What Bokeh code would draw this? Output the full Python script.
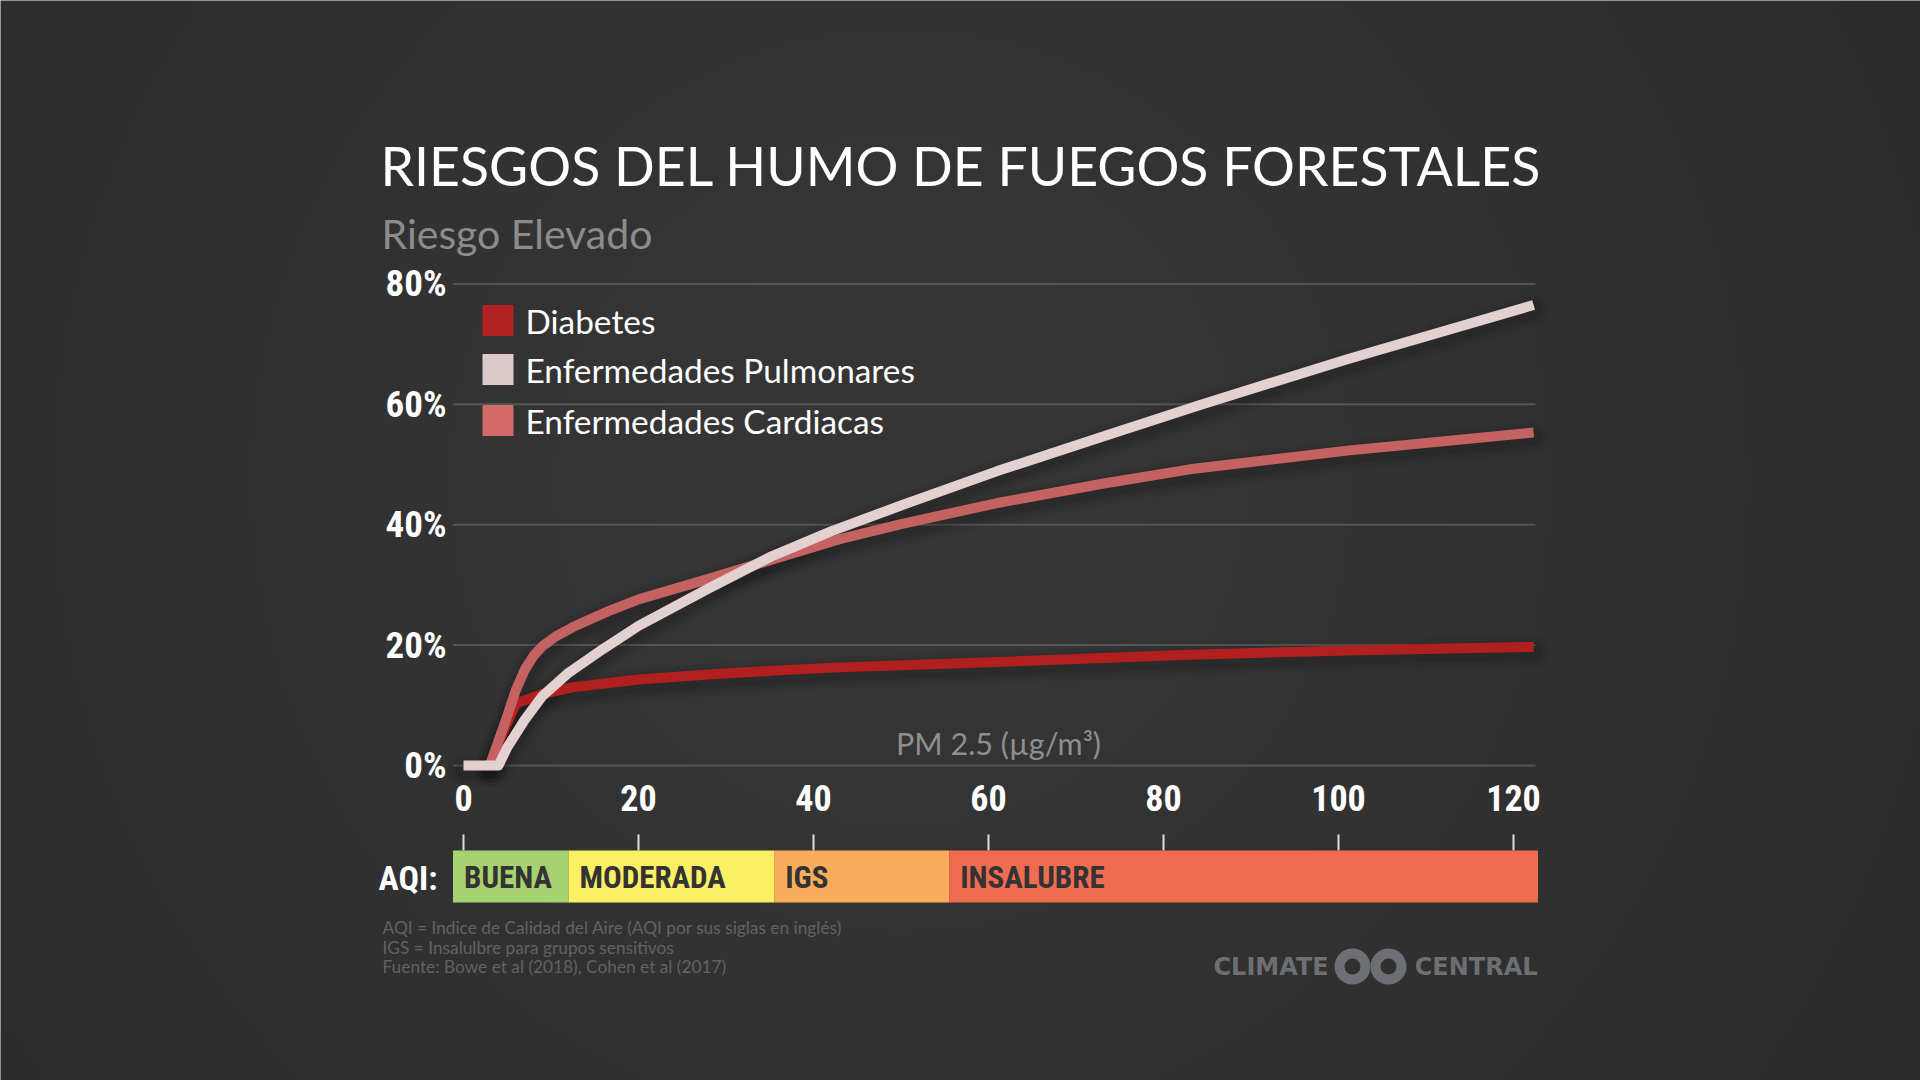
from bokeh.plotting import figure
from bokeh.models import Range1d
from bokeh.core.properties import value
from bokeh.embed import file_html
from bokeh.resources import INLINE

# ---------------- data ----------------
pm_ticks = [0, 20, 40, 60, 80, 100, 120]
risk_ticks = [0, 20, 40, 60, 80]

series_names = ["Diabetes", "Enfermedades Pulmonares", "Enfermedades Cardiacas"]

diabetes_pm = [3, 4.5, 6, 9, 12.5, 20, 28, 36, 43, 61, 83, 101, 122.3]
diabetes_risk = [0, 5.5, 10.3, 11.9, 13.0, 14.3, 15.1, 15.8, 16.3, 17.2, 18.4, 19.1, 19.7]

pulmonar_pm = [0, 4, 5, 7, 9, 12, 16, 20, 28, 35, 42, 50, 61, 73, 84, 101, 122.3]
pulmonar_risk = [0, 0, 3.0, 7.6, 11.5, 15.4, 19.4, 23.2, 29.4, 34.6, 38.9, 43.2, 48.9, 54.6, 59.8, 67.5, 76.5]

cardiaca_pm = [3, 5, 6, 7, 8, 9, 10.5, 12.5, 16.5, 20, 28, 35.5, 43, 50, 61, 73, 83, 101, 122.3]
cardiaca_risk = [0, 8.2, 12.6, 15.9, 18.2, 19.8, 21.4, 23.0, 25.6, 27.6, 31.0, 34.3, 37.6, 40.1, 43.6, 46.8, 49.2, 52.3, 55.3]

aqi_labels = ["BUENA", "MODERADA", "IGS", "INSALUBRE"]
aqi_start = [-1.2, 12, 35.5, 55.5]
aqi_end = [12, 35.5, 55.5, 122.8]

footnotes = [
    "AQI = Indice de Calidad del Aire (AQI por sus siglas en inglés)",
    "IGS = Insalulbre para grupos sensitivos",
    "Fuente: Bowe et al (2018), Cohen et al (2017)",
]

# ---------------- styling ----------------
BG = "#2b2b2b"
LINE_COLORS = {"Diabetes": "#b21f1f", "Enfermedades Pulmonares": "#e3d0d0",
               "Enfermedades Cardiacas": "#c46262"}
SWATCH_COLORS = ["#b22222", "#dccaca", "#d36a6a"]
AQI_COLORS = ["#a8d26f", "#fbf064", "#f9ad5c", "#f06c51"]
SANS = "Lato"
COND = "Roboto Condensed"

W, H = 1920, 1080
X0, SX = 463.0, 8.75     # pixel of PM 0, pixels per PM unit
Y0, SY = 765.0, 6.02     # pixel of 0 %, pixels per percent


def px(xp):
    return (xp - X0) / SX


def py(yp):
    return (Y0 - yp) / SY


p = figure(width=W, height=H, output_backend="svg", toolbar_location=None,
           x_range=Range1d(px(0), px(W)), y_range=Range1d(py(H), py(0)),
           min_border=0, background_fill_color=BG, border_fill_color=BG,
           outline_line_color=None)
p.axis.visible = False
p.grid.visible = False

# soft smoky glow behind the chart, darker towards the corners
for r in range(1150, 150, -100):
    p.scatter(x=[px(900)], y=[py(480)], size=2 * r, marker="circle",
              fill_color="#ffffff", fill_alpha=0.009, line_color=None)


def txt(x, y, s, size, color, font=SANS, style="normal", align="left",
        baseline="middle", **kw):
    xs = x if isinstance(x, list) else [x]
    ys = y if isinstance(y, list) else [y] * len(xs)
    ss = s if isinstance(s, list) else [s] * len(xs)
    p.text(x=xs, y=ys, text=ss, text_font=value(font),
           text_font_size=value(f"{size}px"), text_color=color,
           text_font_style=style, text_align=align, text_baseline=baseline, **kw)


# horizontal grid lines
p.segment(x0=[-1.2] * len(risk_ticks), y0=risk_ticks, x1=[122.5] * len(risk_ticks),
          y1=risk_ticks, line_color="#555555", line_width=2)

# titles
txt(px(380), py(164), "RIESGOS DEL HUMO DE FUEGOS FORESTALES", 53.6, "#ffffff")
txt(px(381), py(233), "Riesgo Elevado", 41, "#8c8c8c")

# y tick labels
txt([px(446)] * len(risk_ticks), risk_ticks, [f"{t}%" for t in risk_ticks],
    37, "#ffffff", font=COND, style="bold", align="right")

# curves with a soft shadow underneath
curves = [(diabetes_pm, diabetes_risk, "Diabetes"),
          (cardiaca_pm, cardiaca_risk, "Enfermedades Cardiacas"),
          (pulmonar_pm, pulmonar_risk, "Enfermedades Pulmonares")]
for xs, ys, name in curves:
    shadow = [v - 5 / SY for v in ys]
    for w, a in [(32, 0.04), (24, 0.06), (17, 0.08)]:
        p.line(xs, shadow, line_color="#000000", line_alpha=a, line_width=w,
               line_join="round", line_cap="round")
for xs, ys, name in curves:
    p.line(xs, ys, line_color=LINE_COLORS[name], line_width=10,
           line_join="round", line_cap="butt")

# x axis title and tick labels
txt(px(998), py(742), "PM 2.5 (µg/m³)", 30.5, "#8f8f8f", align="center")
txt(pm_ticks, py(797), [str(t) for t in pm_ticks], 36, "#ffffff",
    font=COND, style="bold", align="center")

# legend
leg_y = [py(320), py(369), py(420)]
p.rect(x=[px(497.5)] * 3, y=leg_y, width=31, height=31, width_units="screen",
       height_units="screen", fill_color=SWATCH_COLORS, line_color=None)
txt([px(525)] * 3, leg_y, series_names, 33.4, "#ffffff")

# AQI band
p.segment(x0=pm_ticks, y0=[py(834)] * len(pm_ticks), x1=pm_ticks,
          y1=[py(850)] * len(pm_ticks), line_color="#dddddd", line_width=2)
p.quad(left=aqi_start, right=aqi_end, bottom=py(902), top=py(850),
       fill_color=AQI_COLORS, line_color=None)
txt(aqi_start, py(877), aqi_labels, 31, "#333333", font=COND, style="bold",
    x_offset=11)
txt(px(437), py(877), "AQI:", 34, "#ffffff", font=COND, style="bold", align="right")

# footnotes
txt([px(382)] * 3, [py(927), py(947), py(966)], footnotes, 17.3, "#626262")

# logo
LOGO = "#6c6f73"
txt(px(1213), py(966), "CLIMATE", 24, LOGO, font="DejaVu Sans", style="bold")
txt(px(1537), py(966), "CENTRAL", 24, LOGO, font="DejaVu Sans", style="bold",
    align="right")
p.annulus(x=[px(1352), px(1388)], y=[py(966)] * 2, inner_radius=8, outer_radius=18,
          inner_radius_units="screen", outer_radius_units="screen",
          fill_color=LOGO, line_color=None)

open("out.html", "w").write(file_html(p, INLINE))
